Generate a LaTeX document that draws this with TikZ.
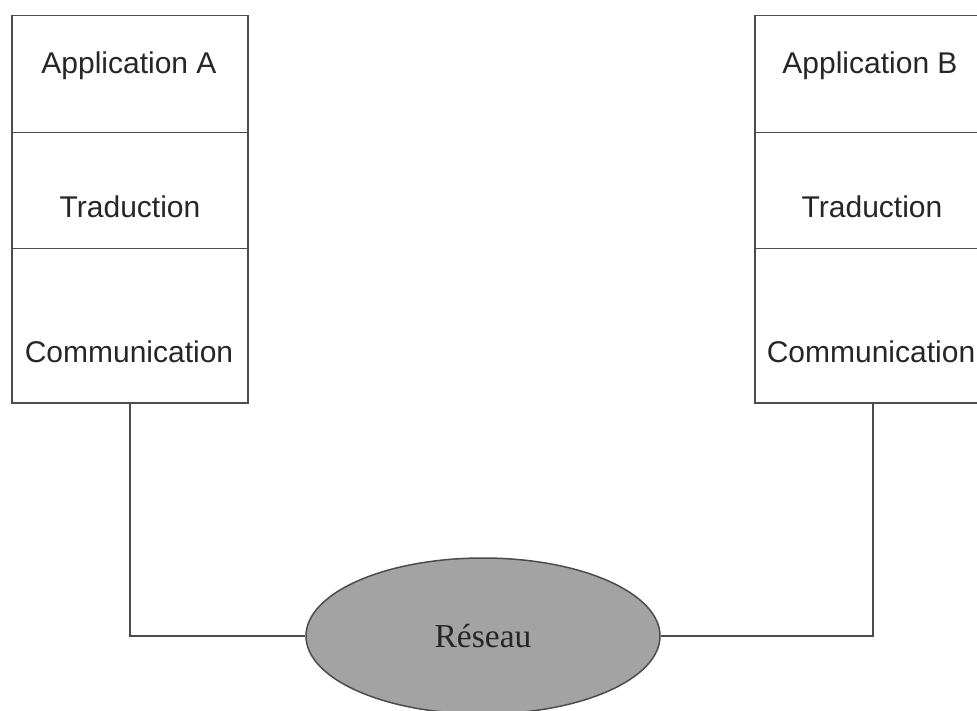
\documentclass[tikz,border=0pt]{standalone}
\usepackage{fontspec}
\setmainfont{Liberation Serif}
\newfontfamily\helv{Liberation Sans}
\usetikzlibrary{shapes.geometric}
\begin{document}
\begin{tikzpicture}[x=1pt,y=-1pt,
  line/.style={draw=black!70,line width=1.5pt},
  layer/.style={line,rectangle,minimum width=236pt,inner sep=0pt,anchor=north west},
  lbl/.style={font=\helv\fontsize{30}{35}\selectfont,text=black!85,inner sep=0pt},
  net/.style={line,ellipse,fill=black!36,minimum width=354pt,minimum height=156pt,inner sep=0pt,
    font=\fontsize{33.5}{38}\selectfont,text=black!85}]
\useasboundingbox (0,0) rectangle (977,711);
% left stack
\node[layer,minimum height=117pt] (aApp) at (11,15) {};
\node[layer,minimum height=116pt] (aTrad) at (11,132) {};
\node[layer,minimum height=154pt] (aCom) at (11,248) {};
\node[lbl] (taApp) at (129,66) {Application A};
\node[lbl] (taTrad) at (130,207) {Traduction};
\node[lbl] (taCom) at (129,352) {Communication};
% right stack
\node[layer,minimum height=117pt] (bApp) at (754,15) {};
\node[layer,minimum height=116pt] (bTrad) at (754,132) {};
\node[layer,minimum height=154pt] (bCom) at (754,248) {};
\node[lbl] (tbApp) at (870,66) {Application B};
\node[lbl] (tbTrad) at (872,207) {Traduction};
\node[lbl] (tbCom) at (871,352) {Communication};
% network
\node[net] (net) at (483,636) {Réseau};
\draw[line] (aCom.south) |- (net.west);
\draw[line] (bCom.south) |- (net.east);
\end{tikzpicture}
\end{document}
